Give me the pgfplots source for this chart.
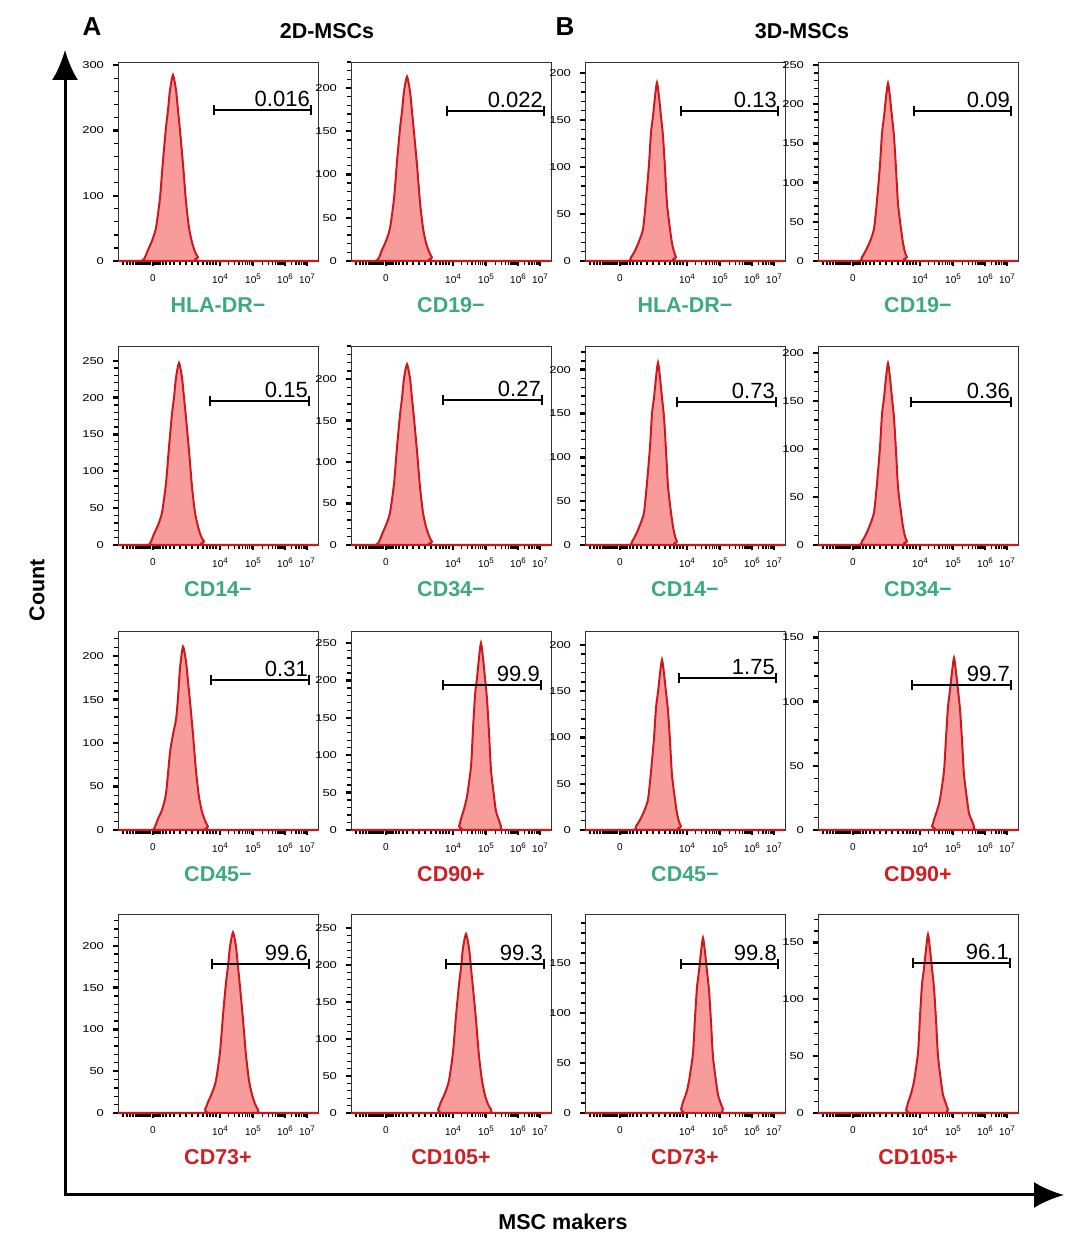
\documentclass[border=0pt]{standalone}
\usepackage{fontspec}
\setmainfont{Liberation Sans}
\usepackage{graphicx}
\usepackage{pgfplots}
\usepackage{pgfplotstable}
\pgfplotsset{compat=1.18}
\usetikzlibrary{arrows.meta}

\definecolor{histfill}{RGB}{247,155,155}
\definecolor{histline}{RGB}{205,25,30}
\definecolor{mgreen}{RGB}{60,170,125}
\definecolor{mred}{RGB}{210,30,35}

\newcommand\dec[1]{10\raisebox{3.8pt}{\fontsize{8}{8}\selectfont #1}}

% x: display position across the 200-unit wide panel (0 at 35, 10^4 at 102, 10^5 at 135, 10^6 at 167, 10^7 at 189)
\pgfplotstableread{
x y
0 0
23 0
27 6
30 17
34 31
38 51
42 97
45 154
48 205
50 231
52 262
55 285
58 262
60 231
62 200
65 148
68 91
71 51
74 29
77 14
80 6
84 0
200 0
}\dA
\pgfplotstableread{
x y
0 0
24 0
28 4
31 13
35 23
39 38
43 72
46 115
49 153
51 173
53 196
56 213
59 196
61 173
63 149
66 111
69 68
72 38
75 21
78 11
81 4
85 0
200 0
}\dB
\pgfplotstableread{
x y
0 0
42 0
46 4
50 11
54 21
58 34
61 65
64 103
66 137
68 154
70 175
72 190
74 175
76 154
78 133
80 99
82 61
85 34
87 19
89 10
91 4
94 0
200 0
}\dC
\pgfplotstableread{
x y
0 0
40 0
44 5
48 14
52 25
56 41
59 77
62 123
64 163
66 184
68 209
70 227
72 209
74 184
76 159
78 118
80 73
83 41
85 23
87 11
89 5
92 0
200 0
}\dD
\pgfplotstableread{
x y
0 0
29 0
33 5
36 15
40 27
44 44
48 84
51 133
54 178
56 200
58 227
61 247
64 227
66 200
68 173
71 128
74 79
77 44
80 25
83 12
86 5
90 0
200 0
}\dE
\pgfplotstableread{
x y
0 0
24 0
28 4
31 13
35 24
39 39
43 74
46 118
49 157
51 177
53 201
56 218
59 201
61 177
63 153
66 113
69 70
72 39
75 22
78 11
81 4
85 0
200 0
}\dF
\pgfplotstableread{
x y
0 0
43 0
47 4
51 12
55 23
59 37
62 71
65 112
67 150
69 168
71 191
73 208
75 191
77 168
79 146
81 108
83 67
86 37
88 21
90 10
92 4
95 0
200 0
}\dG
\pgfplotstableread{
x y
0 0
40 0
44 4
48 11
52 21
56 34
59 64
62 102
64 136
66 153
68 174
70 189
72 174
74 153
76 132
78 98
80 60
83 34
85 19
87 9
89 4
92 0
200 0
}\dH
\pgfplotstableread{
x y
0 0
33 0
37 4
40 13
44 23
48 42
52 89
55 110
58 127
60 152
62 186
65 211
68 194
70 171
72 148
75 110
78 68
81 38
84 21
87 11
90 4
94 0
200 0
}\dI
\pgfplotstableread{
x y
0 0
104 0
108 5
110 15
113 28
116 45
120 85
122 135
124 180
126 203
128 230
130 250
132 230
134 203
136 175
138 130
140 80
143 45
145 25
148 13
150 5
153 0
200 0
}\dJ
\pgfplotstableread{
x y
0 0
47 0
51 4
55 11
59 20
63 33
66 63
69 99
71 132
73 149
75 169
77 184
79 169
81 149
83 129
85 96
87 59
90 33
92 18
94 9
96 4
99 0
200 0
}\dK
\pgfplotstableread{
x y
0 0
110 0
114 3
116 8
119 15
122 24
126 46
128 72
130 96
132 109
134 123
136 134
138 123
140 109
142 94
144 70
146 43
149 24
151 13
154 7
156 3
159 0
200 0
}\dL
\pgfplotstableread{
x y
0 0
83 0
87 4
90 13
94 24
98 39
102 73
105 117
108 156
110 175
112 199
115 216
118 199
120 175
122 151
125 112
128 69
131 39
134 22
137 11
140 4
144 0
200 0
}\dM
\pgfplotstableread{
x y
0 0
83 0
87 5
90 15
94 27
98 44
102 82
105 131
108 174
110 196
112 223
115 242
118 223
120 196
122 169
125 126
128 77
131 44
134 24
137 12
140 5
144 0
200 0
}\dN
\pgfplotstableread{
x y
0 0
92 0
96 4
98 11
101 19
104 32
108 60
110 95
112 126
114 142
116 161
118 175
120 161
122 142
124 123
126 91
128 56
131 32
133 18
136 9
138 4
141 0
200 0
}\dO
\pgfplotstableread{
x y
0 0
84 0
88 3
90 9
93 17
96 28
100 53
102 85
104 113
106 127
108 144
110 157
112 144
114 127
116 110
118 82
120 50
123 28
125 16
128 8
130 3
133 0
200 0
}\dP

\pgfplotsset{hist/.style={
  scale only axis, width=200pt, height=199pt, anchor=south west,
  xmin=0, xmax=200, ymin=0,
  axis line style={draw=black!80, line width=0.8pt},
  xtick={35,102,135,167,189},
  xticklabels={0,\dec{4},\dec{5},\dec{6},\dec{7}},
  minor xtick={5,9,12,15,18,20,22,24,26,28,30,32,36,38,40,42,45,48,52,56,62,68,74,80,85,89,92,95,98,110.5,116.7,121,124.5,127.2,129.6,131.6,133.4,144.6,150.3,154.3,157.4,159.9,162,163.9,165.5,173.5,177.9,181,183.5,185.5,187.1},
  ytick distance=50, minor y tick num=4,
  tick align=outside, xtick pos=bottom, ytick pos=left,
  major tick length=5.5pt, minor tick length=4pt,
  major tick style={black, line width=2.4pt},
  minor tick style={black, line width=1.3pt},
  tick label style={font=\fontsize{10}{12}\selectfont, text=black},
  yticklabel={\scalebox{1.3}[1]{\pgfmathprintnumber{\tick}}},
  xticklabel style={yshift=-4pt},
  yticklabel style={anchor=east, xshift=-5pt},
  /pgf/number format/assume math mode=true,
  clip=false,
}}

\newcommand\panel[8]{%
\begin{axis}[hist,#1]
\addplot[draw=histline, line width=2pt, fill=histfill, smooth, tension=0.4] table {#2} \closedcycle;
\addplot[black, line width=2pt, arrows={Bar[width=10pt]-Bar[width=10pt]}] coordinates {(#3,#5) (#4,#5)};
\node[anchor=south east, inner sep=0pt, font=\fontsize{22}{24}\selectfont] at (axis cs:#4,#5) [xshift=-2pt, yshift=3pt] {#6};
\node[font=\bfseries\fontsize{21.5}{24}\selectfont, text=#8] at (axis description cs:0.5,0) [yshift=-44pt] {#7};
\end{axis}}

\begin{document}
\begin{tikzpicture}[x=1pt,y=1pt]
\useasboundingbox (0,0) rectangle (1080,1256);

% Row 1
\panel{at={(118pt,995pt)}, ymax=305, ytick distance=100}{\dA}{95}{194}{231}{0.016}{HLA-DR−}{mgreen}
\panel{at={(351pt,995pt)}, ymax=230}{\dB}{95}{194}{173}{0.022}{CD19−}{mgreen}
\panel{at={(585pt,995pt)}, ymax=212}{\dC}{95}{194}{160}{0.13}{HLA-DR−}{mgreen}
\panel{at={(818pt,995pt)}, ymax=254}{\dD}{95}{194}{191}{0.09}{CD19−}{mgreen}
% Row 2
\panel{at={(118pt,711pt)}, ymax=270}{\dE}{91}{192}{196}{0.15}{CD14−}{mgreen}
\panel{at={(351pt,711pt)}, ymax=240}{\dF}{91}{192}{175}{0.27}{CD34−}{mgreen}
\panel{at={(585pt,711pt)}, ymax=227}{\dG}{91}{192}{163}{0.73}{CD14−}{mgreen}
\panel{at={(818pt,711pt)}, ymax=207}{\dH}{92}{194}{149}{0.36}{CD34−}{mgreen}
% Row 3
\panel{at={(118pt,426pt)}, ymax=229}{\dI}{92}{192}{173}{0.31}{CD45−}{mgreen}
\panel{at={(351pt,426pt)}, ymax=266}{\dJ}{91}{191}{194}{99.9}{CD90+}{mred}
\panel{at={(585pt,426pt)}, ymax=215}{\dK}{93}{192}{164}{1.75}{CD45−}{mgreen}
\panel{at={(818pt,426pt)}, ymax=155}{\dL}{93}{194}{113}{99.7}{CD90+}{mred}
% Row 4
\panel{at={(118pt,143pt)}, ymax=238}{\dM}{93}{192}{178}{99.6}{CD73+}{mred}
\panel{at={(351pt,143pt)}, ymax=269}{\dN}{94}{194}{201}{99.3}{CD105+}{mred}
\panel{at={(585pt,143pt)}, ymax=199}{\dO}{95}{194}{149}{99.8}{CD73+}{mred}
\panel{at={(818pt,143pt)}, ymax=175}{\dP}{94}{193}{132}{96.1}{CD105+}{mred}

% big axes arrows
\draw[line width=3pt, -{Latex[length=30pt,width=26pt]}] (65,59.5) -- (65,1206);
\draw[line width=3pt, -{Latex[length=30pt,width=26pt]}] (63.5,61) -- (1064,61);

\node[font=\bfseries\fontsize{21.5}{24}\selectfont, rotate=90] at (37,666) {Count};
\node[font=\bfseries\fontsize{21.5}{24}\selectfont] at (563,34) {MSC makers};
\node[font=\bfseries\fontsize{21.5}{24}\selectfont] at (327,1225) {2D-MSCs};
\node[font=\bfseries\fontsize{21.5}{24}\selectfont] at (802,1225) {3D-MSCs};
\node[font=\bfseries\fontsize{26}{30}\selectfont] at (92,1229) {A};
\node[font=\bfseries\fontsize{26}{30}\selectfont] at (565,1229) {B};
\end{tikzpicture}
\end{document}
